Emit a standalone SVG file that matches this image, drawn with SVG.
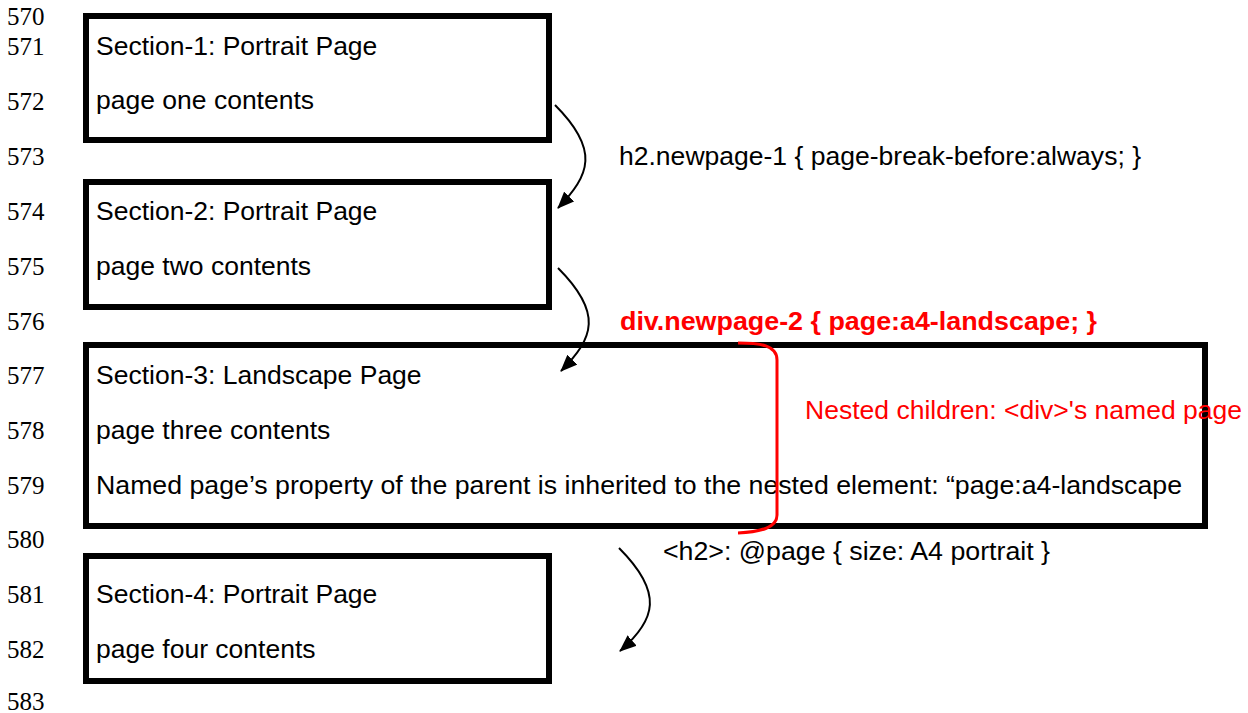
<svg xmlns="http://www.w3.org/2000/svg" width="1248" height="713" viewBox="0 0 1248 713">
<defs>
<style>
.box{fill:none;stroke:#000;stroke-width:6}
.t{font-family:"Liberation Sans",Arial,sans-serif;font-size:26.5px;fill:#000}
.red{fill:#ff0000}
.b{font-weight:bold}
.ln{font-family:"Liberation Serif","Times New Roman",serif;font-size:25px;fill:#000}
.conn{fill:none;stroke:#000;stroke-width:2}
.brace{fill:none;stroke:#ff0000;stroke-width:3}
</style>
<marker id="ah" markerUnits="userSpaceOnUse" viewBox="0 0 17 14" markerWidth="17" markerHeight="14" refX="16" refY="7" orient="auto">
<path d="M0,0 L17,7 L0,14 z" fill="#000"/>
</marker>
</defs>
<rect width="1248" height="713" fill="#fff"/>
<g id="line-numbers">
<text class="ln" x="7" y="25">570</text>
<text class="ln" x="7" y="55">571</text>
<text class="ln" x="7" y="110">572</text>
<text class="ln" x="7" y="165">573</text>
<text class="ln" x="7" y="220">574</text>
<text class="ln" x="7" y="275">575</text>
<text class="ln" x="7" y="330">576</text>
<text class="ln" x="7" y="384">577</text>
<text class="ln" x="7" y="439">578</text>
<text class="ln" x="7" y="494">579</text>
<text class="ln" x="7" y="548">580</text>
<text class="ln" x="7" y="603">581</text>
<text class="ln" x="7" y="658">582</text>
<text class="ln" x="7" y="710">583</text>
</g>
<g id="section1">
<rect class="box" x="86" y="16" width="463" height="124"/>
<text class="t" x="96" y="55">Section-1: Portrait Page</text>
<text class="t" x="96" y="109">page one contents</text>
</g>
<g id="section2">
<rect class="box" x="86" y="182" width="463" height="125"/>
<text class="t" x="96" y="220">Section-2: Portrait Page</text>
<text class="t" x="96" y="275">page two contents</text>
</g>
<g id="section3">
<rect class="box" x="86" y="345" width="1119" height="181"/>
<text class="t" x="96" y="384">Section-3: Landscape Page</text>
<text class="t" x="96" y="439">page three contents</text>
<text class="t" x="96" y="494" textLength="1086" lengthAdjust="spacingAndGlyphs">Named page’s property of the parent is inherited to the nested element: “page:a4-landscape</text>
</g>
<g id="section4">
<rect class="box" x="86" y="556" width="463" height="125"/>
<text class="t" x="96" y="603">Section-4: Portrait Page</text>
<text class="t" x="96" y="658">page four contents</text>
</g>
<g id="labels">
<text class="t" x="619" y="165" textLength="522" lengthAdjust="spacingAndGlyphs">h2.newpage-1 { page-break-before:always; }</text>
<text class="t red b" x="620" y="330" textLength="477" lengthAdjust="spacingAndGlyphs">div.newpage-2 { page:a4-landscape; }</text>
<text class="t red" x="805" y="419" textLength="437" lengthAdjust="spacingAndGlyphs">Nested children: &lt;div&gt;'s named page</text>
<text class="t" x="663" y="560" textLength="387" lengthAdjust="spacingAndGlyphs">&lt;h2&gt;: @page { size: A4 portrait }</text>
</g>
<g id="connectors">
<path class="conn" d="M555,105 C600,150 590,175 558,208" marker-end="url(#ah)"/>
<path class="conn" d="M558,268 C603,313 594,338 561,371" marker-end="url(#ah)"/>
<path class="conn" d="M619,548 C664,593 656,620 620,651" marker-end="url(#ah)"/>
<path class="brace" d="M738,343 C760,343 777,345 777,360 L777,515 C777,528 760,532 738,533"/>
</g>
</svg>
